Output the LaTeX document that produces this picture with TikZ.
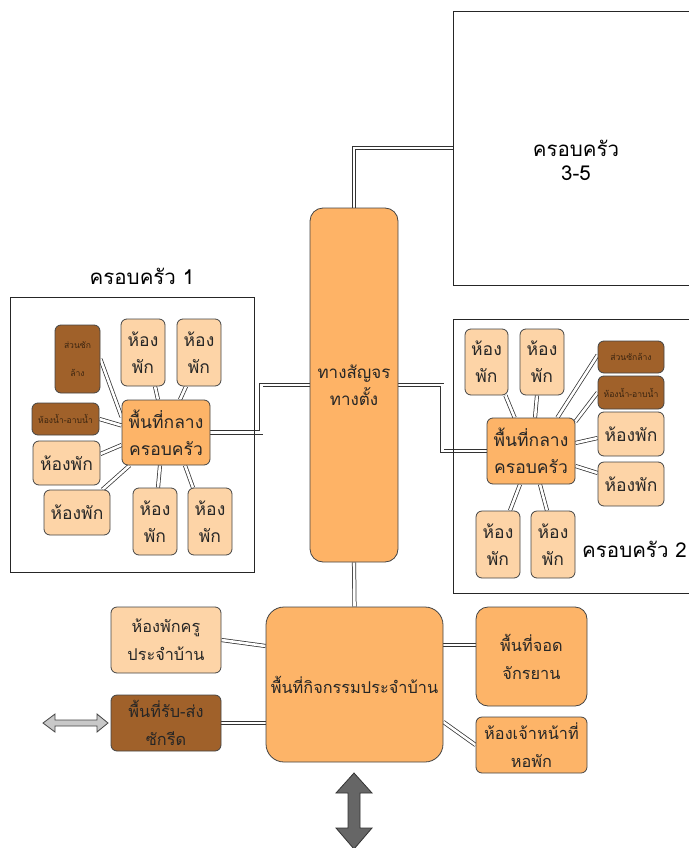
\documentclass[tikz,border=0pt]{standalone}
\usepackage{fontspec}
\newfontfamily\thai[Script=Thai]{Loma}
\usetikzlibrary{calc}
\pgfdeclarelayer{bg}
\pgfsetlayers{bg,main}
\definecolor{peach}{HTML}{FDD4A7}
\definecolor{orng}{HTML}{FDB468}
\definecolor{tallc}{HTML}{FEB366}
\definecolor{brownf}{HTML}{A0612A}
\definecolor{browntxt}{HTML}{3A2410}
\definecolor{bord}{HTML}{444444}
\definecolor{txt}{HTML}{262626}
\definecolor{dline}{HTML}{333333}
\definecolor{lgray}{HTML}{C8C8C8}
\definecolor{dgray}{HTML}{666666}
\begin{document}
\begin{tikzpicture}[x=1pt,y=-1pt,
  box/.style={draw=bord, line width=0.8pt, rounded corners=6pt, inner sep=0pt, align=center, text=txt, font=\thai\fontsize{17.5}{27}\selectfont},
  room/.style={box, fill=peach},
  hub/.style={box, fill=orng},
  brn/.style={box, fill=brownf, text=browntxt, font=\thai\fontsize{8.6}{28}\selectfont},
  famframe/.style={draw=black!85, line width=0.8pt, inner sep=0pt},
  dbl/.style={draw=dline, line width=0.75pt, double=white, double distance=2.6pt},
  sz/.style 2 args={minimum width=#1pt, minimum height=#2pt},
  title/.style={font=\thai\fontsize{20.5}{24}\selectfont, text=black, align=center, inner sep=0pt}]
\useasboundingbox (0,0) rectangle (688,848);

% ---- frames
\node[famframe, sz={244}{275}] (fam1) at (132,434.5) {};
\node[famframe, sz={247}{274}] (fam2) at (576.5,456) {};
\node[famframe, sz={247}{274}] (fam3) at (576.5,148) {};
\node[title] (t35) at (576,160) {ครอบครัว\\3-5};
\node[title] (t1) at (142,276) {ครอบครัว 1};
\node[title, anchor=east] (t2) at (687,549) {ครอบครัว 2};

% ---- tall corridor
\node[box, fill=tallc, rounded corners=13pt, sz={88}{354}, font=\thai\fontsize{17}{27}\selectfont] (tb) at (354,385) {ทางสัญจร\\ทางตั้ง};

% ---- family 1
\node[hub, sz={88}{65}] (c1) at (166,432.5) {พื้นที่กลาง\\ครอบครัว};
\node[brn, sz={45}{68}] (s1) at (77.5,359) {ส่วนซัก\\ล้าง};
\node[room, sz={44}{67}] (lt1) at (143,352.5) {ห้อง\\พัก};
\node[room, sz={44}{67}] (lt2) at (199,352.5) {ห้อง\\พัก};
\node[brn, sz={67}{32}] (w1) at (65.5,419) {ห้องน้ำ-อาบน้ำ};
\node[room, sz={67}{44}] (r1) at (66.5,463) {ห้องพัก};
\node[room, sz={66}{45}] (r2) at (77,512.5) {ห้องพัก};
\node[room, sz={44}{67}] (lb1) at (155,521.5) {ห้อง\\พัก};
\node[room, sz={44}{67}] (lb2) at (210,521.5) {ห้อง\\พัก};

% ---- family 2
\node[hub, sz={88}{66}] (rc) at (531,451) {พื้นที่กลาง\\ครอบครัว};
\node[room, sz={43}{66}] (rt1) at (486.5,362) {ห้อง\\พัก};
\node[room, sz={44}{66}] (rt2) at (542,362) {ห้อง\\พัก};
\node[brn, sz={66}{32}] (rs) at (631,357) {ส่วนซักล้าง};
\node[brn, sz={66}{33}] (rw) at (631,392.5) {ห้องน้ำ-อาบน้ำ};
\node[room, sz={66}{44}] (rr1) at (631,434) {ห้องพัก};
\node[room, sz={66}{44}] (rr2) at (631,484) {ห้องพัก};
\node[room, sz={44}{67}] (rb1) at (498,544.5) {ห้อง\\พัก};
\node[room, sz={44}{67}] (rb2) at (553,544.5) {ห้อง\\พัก};

% ---- activity area
\node[box, fill=orng, rounded corners=18pt, sz={177}{155}, font=\thai\fontsize{16.3}{27}\selectfont] (act) at (354.5,684.5) {พื้นที่กิจกรรมประจำบ้าน};
\node[room, sz={110}{66}, font=\thai\fontsize{16.3}{28}\selectfont] (kru) at (166,640) {ห้องพักครู\\ประจำบ้าน};
\node[box, fill=brownf, sz={110}{56}, font=\thai\fontsize{16.3}{28}\selectfont] (rsd) at (166,723) {พื้นที่รับ-ส่ง\\ซักรีด};
\node[hub, rounded corners=12pt, sz={111}{99}, font=\thai\fontsize{16.3}{28}\selectfont] (park) at (531.5,656.5) {พื้นที่จอด\\จักรยาน};
\node[hub, sz={111}{56}, font=\thai\fontsize{16.3}{28}\selectfont] (staff) at (531.5,745) {ห้องเจ้าหน้าที่\\หอพัก};

% ---- arrows
\draw[draw=bord, line width=0.8pt, fill=lgray] (43,723) -- (55,714) -- (55,720) -- (97,720) -- (97,714) -- (108,723) -- (97,732) -- (97,726) -- (55,726) -- (55,732) -- cycle;
\draw[draw=black!80, line width=0.8pt, fill=dgray] (354,773) -- (372,793) -- (360,793) -- (360,828) -- (372,828) -- (354,849) -- (336,828) -- (348,828) -- (348,793) -- (336,793) -- cycle;

% ---- connectors
\begin{pgfonlayer}{bg}
\draw[dbl] (tb.north) |- (fam3.west);
\draw[dbl] (c1.east) -- ++(51,0) |- (tb.west);
\draw[dbl] (tb.east) -- ++(44,0) |- (rc.west);
\draw[dbl] (tb.south) -- (act.north);
\draw[dbl] (kru.east) -- (act.west |- 0,646);
\draw[dbl] (rsd.east) -- (rsd.east -| act.west);
\draw[dbl] (act.east |- 0,645) -- (park.west |- 0,645);
\draw[dbl] (act.east |- 0,722) -- (staff.west);
% family 1
\draw[dbl] (s1.east) -- ([yshift=15.5pt]c1.west);
\draw[dbl] (w1.east) -- ([yshift=7pt]c1.west);
\draw[dbl] ([yshift=9pt]r1.east) -- ([yshift=-12.5pt]c1.west);
\draw[dbl] ([xshift=-8pt]r2.north east) -- ([xshift=8pt]c1.south west);
\draw[dbl] ([xshift=12pt]lt1.south) -- ([xshift=-8pt]c1.north);
\draw[dbl] ([xshift=-13pt]lt2.south) -- ([xshift=14pt]c1.north);
\draw[dbl] ([xshift=-6pt]c1.south) -- ([xshift=3pt]lb1.north);
\draw[dbl] ([xshift=19pt]c1.south) -- ([xshift=-17pt]lb2.north);
% family 2
\draw[dbl] ([xshift=-3pt]rt1.south east) -- ([xshift=28pt]rc.north west);
\draw[dbl] ([xshift=-5pt]rt2.south) -- ([xshift=4pt]rc.north);
\draw[dbl] ([yshift=2pt]rs.west) -- ([xshift=-18pt]rc.north east);
\draw[dbl] (rw.west) -- ([yshift=-4pt]rc.north east);
\draw[dbl] ([yshift=-4pt]rr1.west) -- ([yshift=8pt]rc.east);
\draw[dbl] ([yshift=11pt]rr2.west) -- ([yshift=-15pt]rc.east);
\draw[dbl] ([xshift=-11pt]rc.south) -- ([xshift=12pt]rb1.north);
\draw[dbl] ([xshift=9pt]rc.south) -- ([xshift=-6pt]rb2.north);
\end{pgfonlayer}
\end{tikzpicture}
\end{document}
